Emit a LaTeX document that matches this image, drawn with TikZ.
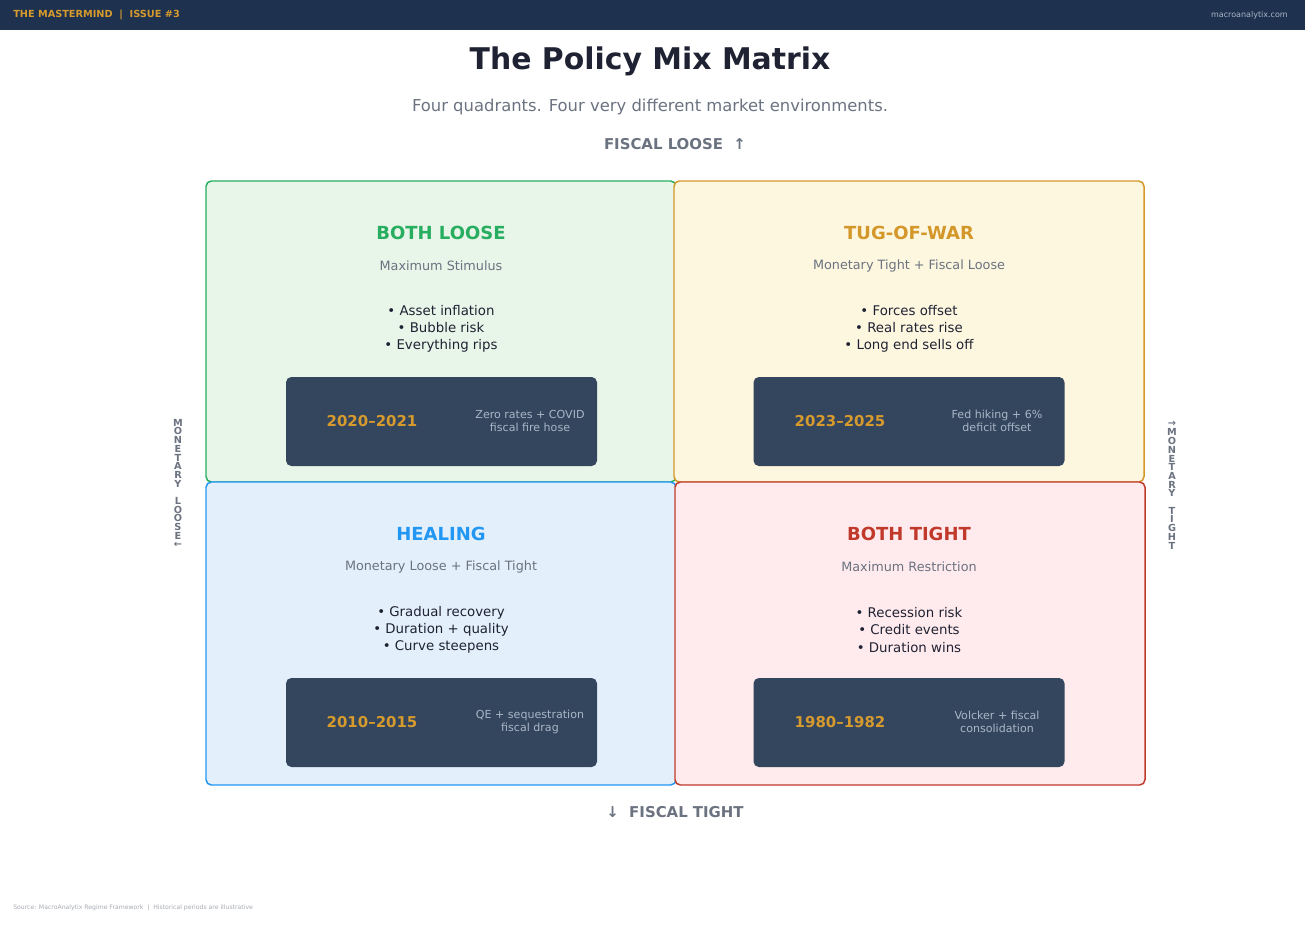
\documentclass[tikz,border=0pt]{standalone}
\usepackage{fontspec}
\setmainfont{DejaVu Sans}
\usetikzlibrary{positioning}

\definecolor{hdrblue}{HTML}{1E3250}
\definecolor{gold}{HTML}{D69A2D}
\definecolor{slate}{HTML}{6B7280}
\definecolor{ink}{HTML}{1F2233}
\definecolor{panel}{HTML}{34465E}
\definecolor{paneltxt}{HTML}{A9B6C6}
\definecolor{greenln}{HTML}{27AE60}
\definecolor{greenbg}{HTML}{E8F5E9}
\definecolor{amberln}{HTML}{D4972A}
\definecolor{amberbg}{HTML}{FEF7E0}
\definecolor{blueln}{HTML}{2196F3}
\definecolor{bluebg}{HTML}{E3F0FB}
\definecolor{redln}{HTML}{C0392B}
\definecolor{redbg}{HTML}{FFEBEE}

\tikzset{
  quadbox/.style={rectangle, rounded corners=4pt, line width=1.1pt,
    minimum width=352.5pt, inner sep=0pt},
  quadtitle/.style={font=\bfseries\fontsize{13.5}{16}\selectfont},
  quadsub/.style={text=slate, font=\fontsize{9.6}{11}\selectfont},
  bullets/.style={text=ink, align=center, font=\fontsize{10}{12.8}\selectfont},
  erabox/.style={rectangle, rounded corners=4pt, fill=panel,
    minimum width=233.25pt, minimum height=66.75pt, inner sep=0pt},
  erayear/.style={text=gold, font=\bfseries\fontsize{11.2}{13}\selectfont},
  eranote/.style={text=paneltxt, align=center, font=\fontsize{8.3}{9.6}\selectfont},
  axislbl/.style={text=slate, font=\bfseries\fontsize{11.2}{13}\selectfont},
  sidelbl/.style={text=slate, inner sep=0pt, font=\bfseries\fontsize{7.3}{8}\selectfont}
}

\begin{document}
\begin{tikzpicture}[x=0.75pt, y=-0.75pt]
  \useasboundingbox (0,0) rectangle (1305,924);

  %% header strip
  \fill[hdrblue] (0,0) rectangle (1305,30);
  \node[anchor=west, inner sep=0pt, text=gold, font=\bfseries\fontsize{7.3}{9}\selectfont] (brand) at (13,15)
    {THE MASTERMIND~~|~~ISSUE \#3};
  \node[anchor=east, inner sep=0pt, text=paneltxt, font=\fontsize{6}{7}\selectfont] (site) at (1288,15)
    {macroanalytix.com};

  %% title
  \node[text=ink, font=\bfseries\fontsize{22.4}{26}\selectfont] (title) at (650,61)
    {The Policy Mix Matrix};
  \node[text=slate, font=\fontsize{12.3}{14}\selectfont] (subtitle) at (650,107)
    {Four quadrants. Four very different market environments.};
  \node[axislbl] (fisloose) at (675,144) {FISCAL LOOSE~~↑};

  %% quadrants
  \node[quadbox, draw=greenln, fill=greenbg, minimum height=225.75pt] (tl) at (441,331.5) {};
  \node[quadbox, draw=amberln, fill=amberbg, minimum height=225.75pt] (tr) at (909,331.5) {};
  \node[quadbox, draw=blueln, fill=bluebg, minimum height=227.25pt] (bl) at (441,633.5) {};
  \node[quadbox, draw=redln, fill=redbg, minimum height=227.25pt] (br) at (910,633.5) {};

  % top left
  \node[quadtitle, text=greenln] (tlhead) at (441,233) {BOTH LOOSE};
  \node[quadsub] (tlsub) at (441,266) {Maximum Stimulus};
  \node[bullets] (tllist) at (441,329) {• Asset inflation\\• Bubble risk\\• Everything rips};
  \node[erabox] (tlera) at (441.5,421.5) {};
  \node[erayear] (tlyear) at (372,421) {2020–2021};
  \node[eranote] (tlnote) at (530,421) {Zero rates + COVID\\fiscal fire hose};

  % top right
  \node[quadtitle, text=amberln] (trhead) at (909,233) {TUG-OF-WAR};
  \node[quadsub] (trsub) at (909,266) {Monetary Tight + Fiscal Loose};
  \node[bullets] (trlist) at (909,329) {• Forces offset\\• Real rates rise\\• Long end sells off};
  \node[erabox] (trera) at (909,421.5) {};
  \node[erayear] (tryear) at (840,421) {2023–2025};
  \node[eranote] (trnote) at (997,421) {Fed hiking + 6\%\\deficit offset};

  % bottom left
  \node[quadtitle, text=blueln] (blhead) at (441,534) {HEALING};
  \node[quadsub] (blsub) at (441,567) {Monetary Loose + Fiscal Tight};
  \node[bullets] (bllist) at (441,630) {• Gradual recovery\\• Duration + quality\\• Curve steepens};
  \node[erabox] (blera) at (441.5,722.5) {};
  \node[erayear] (blyear) at (372,722) {2010–2015};
  \node[eranote] (blnote) at (530,722) {QE + sequestration\\fiscal drag};

  % bottom right
  \node[quadtitle, text=redln] (brhead) at (909,534) {BOTH TIGHT};
  \node[quadsub] (brsub) at (909,567) {Maximum Restriction};
  \node[bullets] (brlist) at (909,630) {• Recession risk\\• Credit events\\• Duration wins};
  \node[erabox] (brera) at (909,722.5) {};
  \node[erayear] (bryear) at (840,722) {1980–1982};
  \node[eranote] (brnote) at (997,722) {Volcker + fiscal\\consolidation};

  %% axis labels
  \node[axislbl] (fistight) at (675,812) {↓~~FISCAL TIGHT};
  \foreach \ch [count=\i] in {M,O,N,E,T,A,R,Y,{},L,O,O,S,E,←}
    \node[sidelbl] (ml\i) at (178,414+8.7*\i) {\ch};
  \foreach \ch [count=\i] in {→,M,O,N,E,T,A,R,Y,{},T,I,G,H,T}
    \node[sidelbl] (mt\i) at (1172,415+8.7*\i) {\ch};

  %% footer
  \node[anchor=west, inner sep=0pt, text=slate!60, font=\fontsize{4.6}{5}\selectfont] (source) at (13,908)
    {Source: MacroAnalytix Regime Framework~~|~~Historical periods are illustrative};
\end{tikzpicture}
\end{document}
